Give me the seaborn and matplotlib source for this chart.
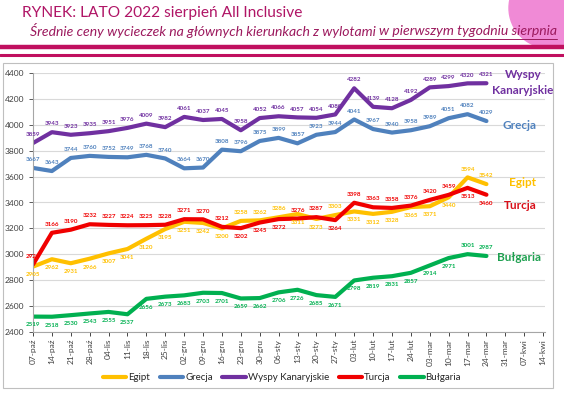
import pandas as pd
import matplotlib.pyplot as plt
import seaborn as sns
from matplotlib.patches import Rectangle, Circle
from matplotlib.lines import Line2D

# tygodnie (os X) - dane koncza sie na 24-mar
tygodnie = ["07-paź", "14-paź", "21-paź", "28-paź", "04-lis", "11-lis", "18-lis",
            "25-lis", "02-gru", "09-gru", "16-gru", "23-gru", "30-gru", "06-sty",
            "13-sty", "20-sty", "27-sty", "03-lut", "10-lut", "17-lut", "24-lut",
            "03-mar", "10-mar", "17-mar", "24-mar", "31-mar", "07-kwi", "14-kwi"]

egipt = [2905, 2962, 2931, 2966, 3007, 3041, 3120, 3195, 3251, 3242, 3200, 3258, 3262,
         3286, 3311, 3273, 3303, 3331, 3312, 3328, 3365, 3371, 3440, 3594, 3542]
grecja = [3667, 3643, 3744, 3760, 3752, 3749, 3768, 3740, 3664, 3670, 3808, 3796, 3875,
          3899, 3857, 3923, 3944, 4041, 3967, 3940, 3958, 3989, 4051, 4082, 4029]
wyspy = [3859, 3943, 3923, 3935, 3951, 3976, 4009, 3982, 4061, 4037, 4045, 3958, 4052,
         4066, 4057, 4054, 4080, 4282, 4139, 4128, 4192, 4289, 4299, 4320, 4321]
turcja = [2921, 3166, 3190, 3232, 3227, 3224, 3225, 3228, 3271, 3270, 3212, 3202, 3245,
          3272, 3276, 3287, 3264, 3398, 3363, 3358, 3376, 3420, 3459, 3513, 3460]
bulgaria = [2519, 2518, 2530, 2543, 2555, 2537, 2656, 2673, 2683, 2703, 2701, 2659, 2662,
            2706, 2726, 2685, 2671, 2798, 2819, 2831, 2857, 2914, 2971, 3001, 2987]

kierunki = ["Egipt", "Grecja", "Wyspy Kanaryjskie", "Turcja", "Bułgaria"]
serie = [egipt, grecja, wyspy, turcja, bulgaria]
kolory = ["#FFC000", "#4F81BD", "#7030A0", "#F00000", "#00B050"]

# ktore etykiety sa nad linia (True) a ktore pod
nad = {
    "Egipt": [i in (11, 12, 13, 16, 23, 24) for i in range(25)],
    "Grecja": [True] * 25,
    "Wyspy Kanaryjskie": [True] * 25,
    "Turcja": [i not in (11, 12, 13, 16, 23, 24) for i in range(25)],
    "Bułgaria": [i in (23, 24) for i in range(25)],
}

rows = []
for nazwa, wartosci in zip(kierunki, serie):
    for i, v in enumerate(wartosci):
        rows.append({"tydzien": i, "kierunek": nazwa, "cena": v})
df = pd.DataFrame(rows)

sns.set_style("white")
plt.rcParams["font.family"] = ["Lato", "DejaVu Sans"]

W, H = 564, 394
fig = plt.figure(figsize=(W / 100, H / 100), dpi=100)

# logo w tle
fig.add_artist(Circle((549, H - 8), 40, transform=None, color="#F08AD6", zorder=-2))

# naglowek
fig.text(22 / W, 1 - 13 / H, "RYNEK: LATO 2022 sierpień All Inclusive",
         fontsize=11.2, color="#B01566", va="center", ha="left")
czesc1 = "Średnie ceny wycieczek na głównych kierunkach z wylotami "
czesc2 = "w pierwszym tygodniu sierpnia"
t1 = fig.text(30 / W, 1 - 31 / H, czesc1, fontsize=10.1, style="italic",
              color="#9C1A5E", va="center", ha="left")
r = fig.canvas.get_renderer()
bb = t1.get_window_extent(r)
x2 = bb.x1 / W
t2 = fig.text(x2, 1 - 31 / H, czesc2, fontsize=10.1, style="italic",
              color="#9C1A5E", va="center", ha="left")
bb2 = t2.get_window_extent(r)
fig.add_artist(Line2D([x2, bb2.x1 / W], [1 - 39 / H, 1 - 39 / H],
                      color="#9C1A5E", lw=0.7))

# paski
fig.add_artist(Line2D([0, 1], [1 - 47 / H, 1 - 47 / H], color="#C0105F", lw=3.2))
fig.add_artist(Line2D([0, 1], [1 - 54.5 / H, 1 - 54.5 / H], color="#C0105F", lw=2.2))

# ramka wykresu
fig.add_artist(Rectangle((3 / W, 1 - 388 / H), 550 / W, 325 / H, facecolor="white",
                         edgecolor="#BFBFBF", lw=0.8, zorder=-1))

ax = fig.add_axes([33 / W, 1 - 332 / H, 512 / W, 259 / H])
ax.patch.set_alpha(0)
sns.lineplot(data=df, x="tydzien", y="cena", hue="kierunek", hue_order=kierunki,
             palette=kolory, linewidth=3.0, ax=ax)

for nazwa, wartosci, kol in zip(kierunki, serie, kolory):
    for i, v in enumerate(wartosci):
        off = 6 if nad[nazwa][i] else -6
        ax.annotate(str(v), (i, v), xytext=(0, off), textcoords="offset points",
                    ha="center", va="center", fontsize=4.5, fontweight="bold",
                    color=kol)

# nazwy serii po prawej
ax.text(25.95, 4385, "Wyspy", color="#7030A0", fontsize=8.5,
        fontweight="bold", ha="center", va="center")
ax.text(25.9, 4268, "Kanaryjskie", color="#7030A0", fontsize=8.5,
        fontweight="bold", ha="center", va="center")
ax.text(25.75, 3998, "Grecja", color="#4F81BD", fontsize=8.5, fontweight="bold",
        ha="center", va="center")
ax.text(25.9, 3558, "Egipt", color="#FFC000", fontsize=8.5, fontweight="bold",
        ha="center", va="center")
ax.text(25.8, 3373, "Turcja", color="#D8101A", fontsize=8.5, fontweight="bold",
        ha="center", va="center")
ax.text(25.75, 2979, "Bułgaria", color="#1FA050", fontsize=8.5, fontweight="bold",
        ha="center", va="center")

ax.set_xlim(0, 27.1)
ax.set_ylim(2400, 4400)
ax.set_xticks(range(len(tygodnie)))
ax.set_xticklabels(tygodnie, rotation=90, fontsize=6, color="#404040")
ax.set_yticks(range(2400, 4401, 200))
ax.tick_params(axis="y", labelsize=6, colors="#404040", length=3, width=0.6,
               direction="out", left=True)
ax.tick_params(axis="x", length=3, width=0.6, direction="out", bottom=True,
               pad=2)
ax.yaxis.grid(True, color="#D9D9D9", lw=0.8)
ax.xaxis.grid(False)
ax.set_axisbelow(True)
ax.set_xlabel("")
ax.set_ylabel("")
for s in ["top", "right"]:
    ax.spines[s].set_visible(False)
for s in ["left", "bottom"]:
    ax.spines[s].set_color("#A6A6A6")
    ax.spines[s].set_linewidth(0.8)

handles, labels = ax.get_legend_handles_labels()
ax.get_legend().remove()
fig.legend(handles, labels, loc="center", bbox_to_anchor=(282 / W, 1 - 378 / H),
           ncol=5, frameon=False, fontsize=7, handlelength=2.4,
           columnspacing=1.0, handletextpad=0.2)

fig.savefig("out.png", dpi=100)
